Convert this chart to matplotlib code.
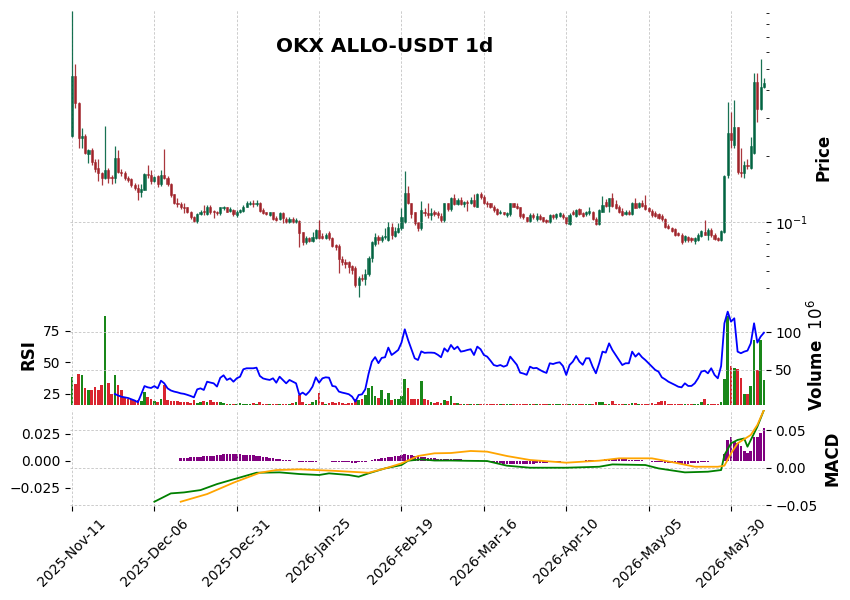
import matplotlib
matplotlib.use("Agg")
import matplotlib.pyplot as plt
from matplotlib.ticker import NullFormatter, LogLocator

title = "OKX ALLO-USDT 1d"
tick_pos = [0, 25, 50, 75, 100, 125, 150, 175, 200]
tick_labels = ["2025-Nov-11", "2025-Dec-06", "2025-Dec-31", "2026-Jan-25", "2026-Feb-19",
               "2026-Mar-16", "2026-Apr-10", "2026-May-05", "2026-May-30"]

opens = [
    0.247, 0.464, 0.349, 0.242, 0.247, 0.205, 0.213, 0.188, 0.176, 0.168,
    0.159, 0.173, 0.161, 0.159, 0.196, 0.169, 0.168, 0.159, 0.157, 0.148,
    0.143, 0.137, 0.141, 0.1655, 0.165, 0.155, 0.162, 0.149, 0.164, 0.160,
    0.149, 0.134, 0.123, 0.1215, 0.118, 0.117, 0.112, 0.106, 0.101, 0.109,
    0.113, 0.109, 0.117, 0.113, 0.111, 0.110, 0.116, 0.117, 0.113, 0.114,
    0.108, 0.111, 0.113, 0.118, 0.121, 0.123, 0.121, 0.122, 0.114, 0.111,
    0.108, 0.111, 0.105, 0.104, 0.110, 0.104, 0.100, 0.104, 0.100, 0.101,
    0.090, 0.081, 0.085, 0.082, 0.085, 0.092, 0.087, 0.085, 0.089, 0.085,
    0.079, 0.078, 0.068, 0.066, 0.066, 0.063, 0.062, 0.052, 0.056, 0.055,
    0.058, 0.069, 0.080, 0.086, 0.083, 0.086, 0.0828, 0.095, 0.087, 0.090,
    0.094, 0.100, 0.1357, 0.122, 0.111, 0.100, 0.094, 0.112, 0.110, 0.108,
    0.111, 0.110, 0.107, 0.103, 0.122, 0.1146, 0.1287, 0.121, 0.127, 0.121,
    0.124, 0.122, 0.126, 0.118, 0.134, 0.131, 0.123, 0.122, 0.117, 0.1146,
    0.110, 0.111, 0.1076, 0.109, 0.122, 0.119, 0.117, 0.1088, 0.1054, 0.101,
    0.1076, 0.104, 0.1065, 0.1054, 0.103, 0.100, 0.1076, 0.1054, 0.107, 0.108,
    0.1054, 0.098, 0.111, 0.1065, 0.1146, 0.110, 0.1088, 0.110, 0.111, 0.104,
    0.098, 0.112, 0.1234, 0.1183, 0.1287, 0.121, 0.117, 0.1122, 0.1088, 0.111,
    0.1088, 0.122, 0.117, 0.122, 0.1196, 0.1158, 0.1122, 0.110, 0.1088, 0.1065,
    0.1032, 0.096, 0.094, 0.0928, 0.089, 0.088, 0.0828, 0.0855, 0.0845, 0.082,
    0.0828, 0.0863, 0.090, 0.088, 0.092, 0.088, 0.0845, 0.0828, 0.090, 0.165,
    0.255, 0.225, 0.272, 0.170, 0.167, 0.183, 0.176, 0.2065, 0.4355, 0.328,
    0.413]

highs = [
    0.92, 0.527, 0.353, 0.269, 0.252, 0.215, 0.218, 0.194, 0.194, 0.170,
    0.274, 0.176, 0.165, 0.222, 0.213, 0.175, 0.171, 0.162, 0.159, 0.151,
    0.150, 0.150, 0.167, 0.182, 0.174, 0.163, 0.164, 0.173, 0.215, 0.162,
    0.151, 0.135, 0.1287, 0.124, 0.123, 0.118, 0.113, 0.107, 0.110, 0.114,
    0.1196, 0.120, 0.120, 0.114, 0.113, 0.118, 0.119, 0.118, 0.117, 0.115,
    0.114, 0.115, 0.120, 0.125, 0.125, 0.126, 0.127, 0.124, 0.116, 0.112,
    0.112, 0.112, 0.107, 0.112, 0.112, 0.106, 0.106, 0.106, 0.105, 0.102,
    0.090, 0.087, 0.086, 0.090, 0.093, 0.102, 0.089, 0.089, 0.091, 0.086,
    0.080, 0.080, 0.070, 0.068, 0.067, 0.064, 0.063, 0.057, 0.058, 0.061,
    0.070, 0.082, 0.089, 0.088, 0.088, 0.094, 0.100, 0.099, 0.095, 0.099,
    0.116, 0.171, 0.146, 0.123, 0.112, 0.100, 0.1247, 0.116, 0.123, 0.116,
    0.114, 0.113, 0.110, 0.123, 0.123, 0.130, 0.134, 0.129, 0.130, 0.125,
    0.126, 0.130, 0.134, 0.136, 0.137, 0.133, 0.125, 0.123, 0.120, 0.116,
    0.1134, 0.112, 0.111, 0.123, 0.123, 0.122, 0.118, 0.110, 0.106, 0.110,
    0.110, 0.110, 0.109, 0.106, 0.104, 0.109, 0.109, 0.110, 0.111, 0.110,
    0.106, 0.110, 0.1134, 0.1146, 0.116, 0.111, 0.1122, 0.117, 0.1122, 0.1054,
    0.1146, 0.1315, 0.1274, 0.1287, 0.1357, 0.126, 0.120, 0.116, 0.1134, 0.1134,
    0.1234, 0.1287, 0.1234, 0.126, 0.133, 0.117, 0.1146, 0.1122, 0.110, 0.1088,
    0.1043, 0.098, 0.095, 0.094, 0.090, 0.089, 0.0872, 0.0863, 0.0855, 0.0855,
    0.089, 0.092, 0.102, 0.094, 0.094, 0.089, 0.0855, 0.092, 0.165, 0.353,
    0.318, 0.360, 0.272, 0.218, 0.190, 0.195, 0.244, 0.4786, 0.478, 0.5546,
    0.4545]

lows = [
    0.244, 0.331, 0.218, 0.218, 0.204, 0.186, 0.182, 0.169, 0.154, 0.148,
    0.157, 0.151, 0.149, 0.151, 0.167, 0.163, 0.156, 0.153, 0.145, 0.140,
    0.127, 0.131, 0.140, 0.159, 0.150, 0.153, 0.145, 0.147, 0.157, 0.147,
    0.130, 0.121, 0.117, 0.115, 0.110, 0.1099, 0.104, 0.100, 0.0995, 0.108,
    0.108, 0.108, 0.109, 0.105, 0.108, 0.108, 0.114, 0.111, 0.111, 0.107,
    0.106, 0.110, 0.112, 0.117, 0.120, 0.118, 0.119, 0.111, 0.109, 0.108,
    0.107, 0.103, 0.101, 0.103, 0.0995, 0.099, 0.099, 0.099, 0.099, 0.077,
    0.079, 0.080, 0.081, 0.081, 0.084, 0.084, 0.084, 0.084, 0.083, 0.077,
    0.0745, 0.059, 0.064, 0.062, 0.059, 0.058, 0.051, 0.0455, 0.054, 0.052,
    0.057, 0.066, 0.078, 0.080, 0.081, 0.084, 0.082, 0.084, 0.0855, 0.089,
    0.092, 0.099, 0.121, 0.105, 0.097, 0.091, 0.092, 0.107, 0.105, 0.103,
    0.107, 0.105, 0.100, 0.100, 0.113, 0.113, 0.120, 0.120, 0.120, 0.117,
    0.113, 0.121, 0.117, 0.117, 0.128, 0.121, 0.118, 0.116, 0.112, 0.1076,
    0.1088, 0.1076, 0.106, 0.107, 0.117, 0.115, 0.105, 0.104, 0.100, 0.100,
    0.104, 0.101, 0.103, 0.100, 0.099, 0.099, 0.104, 0.104, 0.1054, 0.104,
    0.098, 0.097, 0.1076, 0.1054, 0.1076, 0.1054, 0.1065, 0.1076, 0.102, 0.097,
    0.097, 0.111, 0.117, 0.111, 0.117, 0.1146, 0.110, 0.1065, 0.1076, 0.1076,
    0.1076, 0.1158, 0.116, 0.117, 0.1134, 0.111, 0.1054, 0.1054, 0.1032, 0.101,
    0.094, 0.093, 0.090, 0.0863, 0.0863, 0.080, 0.081, 0.081, 0.081, 0.080,
    0.082, 0.0855, 0.0872, 0.0828, 0.0855, 0.0828, 0.082, 0.082, 0.089, 0.160,
    0.218, 0.218, 0.166, 0.1605, 0.160, 0.175, 0.175, 0.205, 0.286, 0.325,
    0.41]

closes = [
    0.464, 0.349, 0.242, 0.247, 0.207, 0.213, 0.188, 0.175, 0.168, 0.159,
    0.173, 0.159, 0.159, 0.196, 0.169, 0.167, 0.159, 0.156, 0.148, 0.143,
    0.137, 0.1415, 0.1655, 0.164, 0.154, 0.1605, 0.149, 0.164, 0.159, 0.149,
    0.133, 0.122, 0.121, 0.117, 0.116, 0.111, 0.1054, 0.101, 0.109, 0.112,
    0.111, 0.117, 0.112, 0.111, 0.110, 0.117, 0.117, 0.112, 0.115, 0.109,
    0.112, 0.114, 0.118, 0.122, 0.123, 0.121, 0.123, 0.113, 0.110, 0.109,
    0.111, 0.104, 0.103, 0.110, 0.105, 0.100, 0.104, 0.100, 0.102, 0.0891,
    0.081, 0.0846, 0.082, 0.0855, 0.092, 0.0846, 0.085, 0.088, 0.085, 0.0777,
    0.077, 0.0678, 0.0657, 0.0643, 0.0623, 0.0604, 0.0516, 0.056, 0.055, 0.058,
    0.069, 0.081, 0.086, 0.083, 0.086, 0.087, 0.0949, 0.0872, 0.091, 0.094,
    0.1054, 0.1357, 0.122, 0.1088, 0.099, 0.094, 0.1134, 0.110, 0.108, 0.110,
    0.109, 0.108, 0.103, 0.122, 0.1146, 0.1287, 0.121, 0.127, 0.121, 0.1234,
    0.122, 0.127, 0.1183, 0.134, 0.130, 0.122, 0.121, 0.117, 0.1134, 0.1088,
    0.112, 0.109, 0.110, 0.122, 0.118, 0.116, 0.1065, 0.1054, 0.101, 0.1076,
    0.1054, 0.1065, 0.104, 0.101, 0.100, 0.1076, 0.1054, 0.1088, 0.110, 0.1054,
    0.099, 0.1076, 0.1088, 0.1134, 0.1088, 0.1065, 0.111, 0.1122, 0.1032, 0.098,
    0.1134, 0.1196, 0.1183, 0.1287, 0.1183, 0.116, 0.111, 0.1076, 0.111, 0.1088,
    0.122, 0.116, 0.122, 0.1183, 0.1146, 0.1122, 0.1076, 0.1065, 0.1043, 0.1032,
    0.0949, 0.094, 0.091, 0.0872, 0.0872, 0.081, 0.0863, 0.0828, 0.0828, 0.0845,
    0.0872, 0.091, 0.088, 0.092, 0.0872, 0.0836, 0.0828, 0.091, 0.162, 0.255,
    0.237, 0.272, 0.169, 0.167, 0.182, 0.181, 0.2226, 0.4355, 0.328, 0.413,
    0.43]

# volume in millions
volumes = [
    41, 31, 45, 43, 26, 24, 23, 27, 23, 30,
    121, 33, 18, 43, 30, 23, 14, 12, 11, 10,
    10, 9, 21, 14, 11, 9, 8, 12, 30, 10,
    9, 9, 9, 8, 8, 8, 6, 10, 6, 7,
    9, 8, 10, 7, 8, 7, 6, 5, 5, 5,
    5, 6, 5, 5, 5, 6, 5, 7, 5, 5,
    5, 5, 5, 5, 5, 5, 5, 6, 8, 17,
    8, 5, 5, 7, 10, 20, 8, 5, 6, 7,
    6, 8, 6, 5, 6, 6, 12, 10, 12, 17,
    26, 29, 15, 13, 24, 12, 20, 10, 12, 12,
    15, 38, 26, 11, 11, 11, 35, 11, 10, 8,
    6, 7, 6, 10, 9, 15, 6, 6, 5, 5,
    5, 5, 5, 5, 4.5, 4.5, 4.5, 4.5, 4.5, 4.5,
    4.5, 4.5, 4.5, 5, 4.5, 4.5, 4.5, 4.5, 4.5, 4.5,
    4.5, 4.5, 4.5, 4.5, 4.5, 4.5, 4.5, 4.5, 4.5, 4.5,
    4.5, 4.5, 4.5, 4.5, 4.5, 4.5, 4.5, 4.5, 5, 8,
    8, 8, 5, 5, 9, 5, 5, 5, 5, 5,
    6, 6, 5, 5, 5, 5, 6, 5, 8, 9,
    9, 5, 5, 5, 5, 5, 5, 5, 5, 5,
    5, 8, 12, 5, 5, 5, 5, 7, 38, 121,
    55, 52, 51, 40, 18, 18, 29, 90, 50, 90,
    37]

rsi_start = 13
rsi = [
    24.7, 23.5, 22.5, 22, 21.5, 20.5, 19.5, 18.1, 24.4, 31,
    30, 29.5, 31, 29.2, 35.3, 33.2, 29.2, 27.5, 26.6, 26,
    25.2, 24.8, 24, 23.1, 22, 28.4, 29.2, 27.9, 34.5, 33.8,
    33.2, 30.6, 37.6, 39.6, 35.9, 37.2, 34.5, 37.2, 38.5, 44.4,
    45.2, 45.2, 45.2, 45.7, 39.1, 37.1, 36.4, 35.9, 37.2, 33.7,
    38.5, 35.9, 33.2, 35.9, 34.5, 33.2, 24, 25.8, 23.9, 26.6,
    30.6, 38, 33.7, 37.2, 38, 37.7, 31.1, 30.6, 26.6, 25.8,
    25.2, 24.5, 22.6, 18.6, 23.9, 24.4, 28.4, 40.7, 50.5, 54.1,
    49.3, 53.5, 54, 61.7, 55.8, 57.7, 59.8, 65.7, 76.3, 67.8,
    60.4, 53.2, 51.8, 58.7, 57.5, 57.7, 57.7, 57.5, 56, 54,
    61.1, 58.5, 63.8, 60.4, 62.5, 58.5, 59, 59.8, 60.4, 55.8,
    62.5, 60.4, 55.8, 54.5, 51.3, 47.8, 47, 47.8, 46.5, 47.5,
    54.5, 51.3, 48, 41.7, 41, 40, 46.5, 45.2, 45.5, 43.9,
    42.5, 41.5, 49.2, 48.6, 49.5, 50, 47, 39.9, 47.8, 50.5,
    55, 50.5, 48, 53.2, 53.2, 46.5, 41.2, 49.2, 58.5, 57.7,
    65.1, 59.8, 55.8, 51.8, 47.8, 49.2, 49.2, 58.5, 54.5, 57.2,
    54, 51.8, 49.2, 46.5, 43.9, 42.5, 38, 36.4, 34.5, 33.2,
    31.9, 30.5, 30, 33.2, 31.1, 31.1, 33.2, 37.2, 42.5, 43.3,
    41.2, 45.2, 39.9, 37.2, 47, 81.1, 90.4, 82.4, 85.1, 58.5,
    57.2, 58.5, 59.3, 65.1, 81.1, 65.7, 70.5, 73.6]

macd_idx = [25, 30, 34, 39, 44, 50, 56, 63, 69, 75, 78, 84, 87, 90, 95, 100, 102, 106,
            110, 115, 120, 126, 132, 139, 150, 160, 164, 174, 178, 186, 193, 197, 198,
            200, 202, 204, 205, 207, 208, 210]
macd_val = [-0.0453, -0.0342, -0.0329, -0.0298, -0.0218, -0.0142, -0.0067, -0.0062,
            -0.0084, -0.0097, -0.0075, -0.0097, -0.012, -0.0075, -0.0009, 0.0036, 0.0093,
            0.0112, 0.0096, 0.0096, 0.0092, 0.0089, 0.0027, 0.0, 0.0, 0.0013, 0.0044,
            0.0036, -0.0009, -0.0062, -0.0053, -0.0031, 0.0169, 0.0325, 0.037, 0.039,
            0.028, 0.0458, 0.0547, 0.077]

signal_idx = [33, 41, 49, 57, 62, 69, 79, 90, 95, 100, 105, 110, 115, 121, 126, 132, 139,
              150, 160, 166, 176, 183, 189, 196, 198, 200, 202, 206, 208, 210]
signal_val = [-0.0453, -0.0351, -0.02, -0.0067, -0.0031, -0.0022, -0.004, -0.0067, -0.001,
              0.0058, 0.0156, 0.0192, 0.0196, 0.0223, 0.0214, 0.0156, 0.0103, 0.0067,
              0.0094, 0.0125, 0.0125, 0.0067, 0.0013, 0.0013, 0.0027, 0.0191, 0.0325,
              0.0436, 0.057, 0.077]

hist_start = 33
hist = [
    0.0025, 0.003, 0.003, 0.0035, 0.0035, 0.004, 0.004, 0.0045,
    0.0045, 0.005, 0.005, 0.0055, 0.0055, 0.006, 0.006, 0.006, 0.006, 0.006,
    0.006, 0.0058, 0.0058, 0.0055, 0.0055, 0.005, 0.0045, 0.004, 0.0035, 0.003,
    0.0025, 0.002, 0.0015, 0.001, 0.0008, 0.0005, 0.0003, 0.0, -0.0005, -0.0008,
    -0.001, -0.001, -0.0008, -0.0005, -0.0003, 0.0, 0.0, 0.0, -0.0005, -0.0008,
    -0.001, -0.0012, -0.0013, -0.0014, -0.0015, -0.0015, -0.0014, -0.001, -0.0005, 0.0,
    0.001, 0.0015, 0.002, 0.0025, 0.003, 0.0035, 0.004, 0.0045, 0.005, 0.0055,
    0.006, 0.0058, 0.0055, 0.005, 0.0045, 0.004, 0.0035, 0.003, 0.0028, 0.0025,
    0.002, 0.002, 0.002, 0.002, 0.002, 0.0018, 0.0016, 0.0014, 0.0012, 0.001,
    0.001, 0.0008, 0.0006, 0.0004, 0.0002, -0.0005, -0.001, -0.0015, -0.002, -0.002,
    -0.0025, -0.0025, -0.0025, -0.0025, -0.0028, -0.003, -0.003, -0.003, -0.0028, -0.0025,
    -0.0022, -0.002, -0.0018, -0.0015, -0.0012, -0.001, -0.0008, -0.0006, -0.0004, -0.0003,
    -0.0002, 0.0, 0.0002, 0.0003, 0.0004, 0.0005, 0.0006, 0.0007, 0.0008, 0.001,
    0.0012, 0.0014, 0.0015, 0.0016, 0.0016, 0.0015, 0.0015, 0.0014, 0.0013, 0.0012,
    0.001, 0.0008, 0.0005, 0.0002, -0.0002, -0.0005, -0.0008, -0.001, -0.0013, -0.0016,
    -0.0018, -0.002, -0.0022, -0.0024, -0.0025, -0.0025, -0.0024, -0.0022, -0.002, -0.0017,
    -0.0014, -0.001, -0.0007, -0.0004, 0.0, 0.0, 0.0, 0.0062, 0.0194, 0.0225,
    0.018, 0.0167, 0.0136, 0.009, 0.0074, 0.009, 0.0225, 0.0225, 0.0256, 0.0302]

# ---------------------------------------------------------------- drawing
n = len(closes)
xs = list(range(n))
up = [c >= o for o, c in zip(opens, closes)]
c_up, c_dn = "#006340", "#a02128"
v_up, v_dn = "#007a00", "#d50d18"
ccol = [c_up if u else c_dn for u in up]
vcol = [v_up if u else v_dn for u in up]

grid_kw = dict(color="#bdbdbd", linestyle=(0, (3, 2)), linewidth=0.6, alpha=0.9)

fig = plt.figure(figsize=(8.5, 6), dpi=100)
W, H = 850.0, 600.0


def rect(l, t, r, b):
    return [l / W, 1 - b / H, (r - l) / W, (b - t) / H]


L, R = 70.35, 765.6
ax_p = fig.add_axes(rect(L, 10, R, 305))
ax_v = fig.add_axes(rect(L, 305, R, 405), sharex=ax_p)
ax_m = fig.add_axes(rect(L, 410, R, 506), sharex=ax_p)
ax_r = ax_v.twinx()
ax_l = ax_m.twinx()

for a in (ax_p, ax_v, ax_m, ax_r, ax_l):
    for s in a.spines.values():
        s.set_visible(False)
    a.set_facecolor("none")

# price panel
bottoms = [min(o, c) for o, c in zip(opens, closes)]
heights = [max(abs(c - o), min(o, c) * 0.006) for o, c in zip(opens, closes)]
ax_p.vlines(xs, lows, highs, colors=ccol, linewidth=0.9, alpha=0.9)
ax_p.bar(xs, heights, bottom=bottoms, width=0.65, color=ccol, edgecolor=ccol,
         linewidth=0.4, alpha=0.9)
ax_p.set_yscale("log")
ax_p.set_ylim(0.042, 0.929)
ax_p.set_xlim(-0.5, n - 0.5)
ax_p.yaxis.tick_right()
ax_p.yaxis.set_label_position("right")
ax_p.yaxis.set_minor_locator(LogLocator(base=10, subs=[2, 3, 4, 5, 6, 7, 8, 9]))
ax_p.yaxis.set_minor_formatter(NullFormatter())
ax_p.set_ylabel("Price", fontsize=12, fontweight="bold")
ax_p.grid(True, which="major", **grid_kw)
ax_p.tick_params(axis="x", bottom=False, labelbottom=False)

# volume + RSI panel
ax_v.bar(xs, volumes, width=0.8, color=vcol, alpha=0.9)
ax_v.set_ylim(3.6, 136)
ax_v.yaxis.tick_right()
ax_v.yaxis.set_label_position("right")
ax_v.set_yticks([50, 100])
ax_v.set_ylabel("Volume  $10^{6}$", fontsize=12, fontweight="bold")
ax_v.grid(True, **grid_kw)
ax_v.tick_params(axis="x", bottom=False, labelbottom=False)

ax_r.plot(range(rsi_start, rsi_start + len(rsi)), rsi, color="blue", linewidth=1.3)
ax_r.yaxis.tick_left()
ax_r.yaxis.set_label_position("left")
ax_r.set_ylim(15.9, 95.7)
ax_r.set_yticks([25, 50, 75])
ax_r.set_ylabel("RSI", fontsize=12, fontweight="bold")
ax_r.grid(False)

# MACD panel
ax_m.bar(range(hist_start, hist_start + len(hist)), hist, width=0.8, color="purple")
ax_m.yaxis.tick_left()
ax_m.set_ylim(-0.0417, 0.0472)
ax_m.set_yticks([-0.025, 0.0, 0.025])
ax_m.grid(True, axis="x", **grid_kw)
ax_m.set_xticks(tick_pos)
ax_m.set_xticklabels(tick_labels, rotation=45, fontsize=10)

ax_l.plot(macd_idx, macd_val, color="green", linewidth=1.3)
ax_l.plot(signal_idx, signal_val, color="orange", linewidth=1.3)
ax_l.yaxis.tick_right()
ax_l.yaxis.set_label_position("right")
ax_l.set_ylim(-0.051, 0.0769)
ax_l.set_yticks([-0.05, 0.0, 0.05])
ax_l.set_ylabel("MACD", fontsize=12, fontweight="bold")
ax_l.grid(True, axis="y", **grid_kw)

for a in (ax_p, ax_v, ax_m, ax_r, ax_l):
    a.tick_params(axis="y", labelsize=10)

fig.text(0.4525, 0.922, title, ha="center", va="center", fontsize=14.4, fontweight="bold")

fig.savefig("out.png", dpi=100, facecolor="white")
